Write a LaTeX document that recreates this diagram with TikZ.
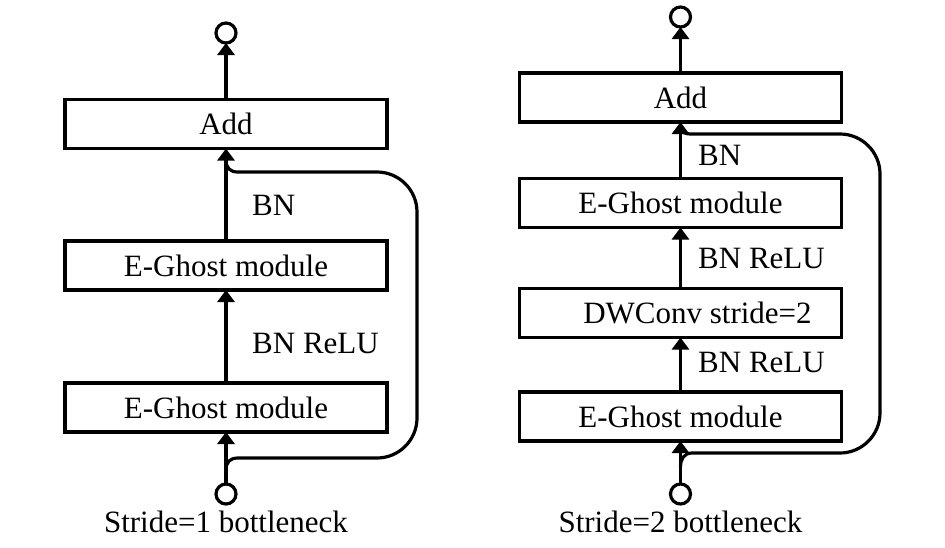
\documentclass[tikz,border=0pt]{standalone}
\usepackage{fontspec}
\setmainfont{Liberation Serif}
\usetikzlibrary{arrows.meta,calc}
\begin{document}
\begin{tikzpicture}[x=1pt,y=-1pt,
  lw/.style={line width=3.2pt},
  box/.style={draw,lw,minimum width=322pt,minimum height=49pt,inner sep=0pt,outer sep=0pt,font=\fontsize{31}{36}\selectfont},
  port/.style={draw,lw,circle,minimum size=20pt,inner sep=0pt,outer sep=0pt},
  lbl/.style={anchor=west,inner sep=0pt,font=\fontsize{31}{36}\selectfont},
  captxt/.style={inner sep=0pt,font=\fontsize{31}{36}\selectfont},
  arr/.style={lw,-{Triangle[width=17pt,length=12pt]}},
  skip/.style={lw,line join=round}]
\useasboundingbox (0,0) rectangle (945,547);
% ---------- left: stride 1 ----------
\node[port] (lin) at (226,494) {};
\node[port] (lout) at (226,33) {};
\node[box] (lg1) at (226,407.5) {E-Ghost module};
\node[box] (lg2) at (226,265.5) {E-Ghost module};
\node[box] (ladd) at (226,124) {Add};
\draw[arr] (lin) -- (lg1);
\draw[arr] (lg1) -- (lg2);
\draw[arr] (lg2) -- (ladd);
\draw[arr] (ladd) -- (lout);
\node[lbl] (lbn) at (252,205) {BN};
\node[lbl] (lbnr) at (252,343) {BN ReLU};
\coordinate (lsplit) at (226,470);
\coordinate (lmerge) at (226,160);
\draw[skip] (lsplit) .. controls (226,462) and (230,458) .. (238,458) -- (377,458)
  .. controls (399,458) and (417,440) .. (417,418) -- (417,212)
  .. controls (417,190) and (399,172) .. (377,172) -- (238,172)
  .. controls (230,172) and (226,168) .. (lmerge);
\node[captxt] (lcap) at (226,522) {Stride=1 bottleneck};
% ---------- right: stride 2 ----------
\node[port] (rin) at (680.5,494) {};
\node[port] (rout) at (680.5,17) {};
\node[box] (rg1) at (680.5,416.5) {E-Ghost module};
\node[box] (rdw) at (680.5,313) {\hspace*{34pt}DWConv stride=2};
\node[box] (rg2) at (680.5,203) {E-Ghost module};
\node[box] (radd) at (680.5,97.5) {Add};
\draw[arr] (rin) -- (rg1);
\draw[arr] (rg1) -- (rdw);
\draw[arr] (rdw) -- (rg2);
\draw[arr] (rg2) -- (radd);
\draw[arr] (radd) -- (rout);
\node[lbl] (rbn) at (698,155) {BN};
\node[lbl] (rbnr1) at (698,258) {BN ReLU};
\node[lbl] (rbnr2) at (698,362) {BN ReLU};
\coordinate (rsplit) at (680.5,467);
\coordinate (rmerge) at (680.5,128);
\draw[skip] (rsplit) .. controls (680.5,459) and (684,453) .. (692,453) -- (840,453)
  .. controls (862,453) and (880,435) .. (880,413) -- (880,174)
  .. controls (880,152) and (862,134) .. (840,134) -- (692,134)
  .. controls (684,134) and (680.5,132) .. (rmerge);
\node[captxt] (rcap) at (680.5,522) {Stride=2 bottleneck};
\end{tikzpicture}
\end{document}
